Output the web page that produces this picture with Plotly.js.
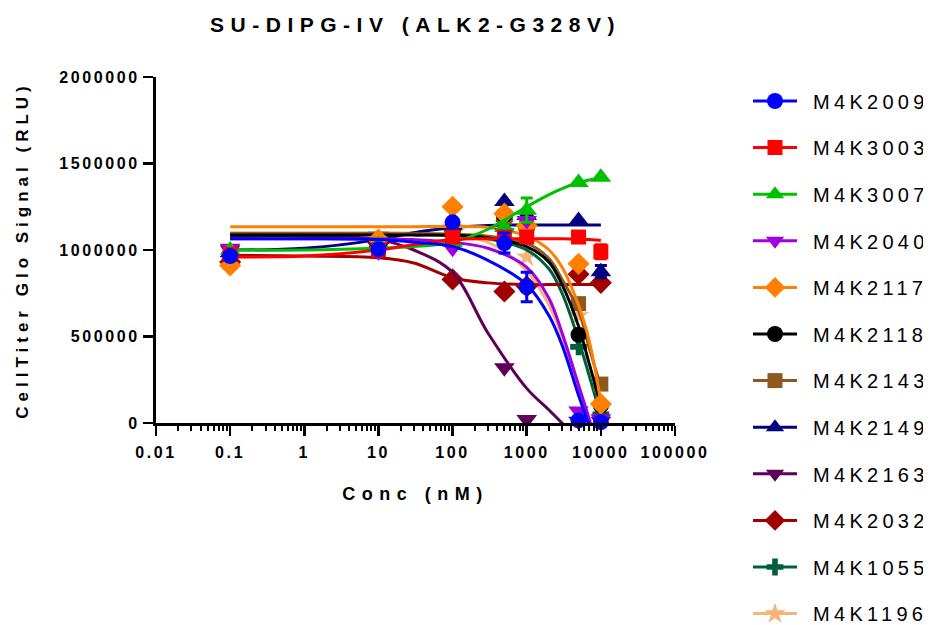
<!DOCTYPE html>
<html><head><meta charset="utf-8">
<script src="https://cdn.plot.ly/plotly-3.0.1.min.js"></script>
<style>
html,body{margin:0;padding:0;background:#fff;}
#chart{width:932px;height:625px;}
.gtitle{letter-spacing:6.5px;}
.xtitle{letter-spacing:6.5px;}
.ytitle{letter-spacing:5px;}
.xtick text,.ytick text{letter-spacing:2.6px;}
.legendtext{letter-spacing:4.3px;}
#chart .legendtext{transform:translate(11px,0);}
</style></head><body><div id="chart"></div>
<script>
// ---- data ----
const names = ["M4K2009","M4K3003","M4K3007","M4K2040","M4K2117","M4K2118","M4K2143","M4K2149","M4K2163","M4K2032","M4K1055","M4K1196"];
const concs = [0.1, 10, 100, 500, 1000, 5000, 10000];

const M4K2009 = [965000, 1005000, 1160000, 1040000, 786000, 15000, 5000];
const M4K3003 = [975000, 1000000, 1075000, 1075000, 1075000, 1075000, 990000];
const M4K3007 = [1000000, 1030000, 1045000, 1130000, 1230000, 1390000, 1420000];
const M4K2040 = [1010000, 990000, 1010000, 1100000, 1170000, 70000, 25000];
const M4K2117 = [910000, 1060000, 1250000, 1210000, 1140000, 920000, 110000];
const M4K2118 = [925000, 1020000, 1130000, 1200000, 1140000, 510000, 100000];
const M4K2143 = [930000, 1030000, 1120000, 1190000, 1140000, 690000, 225000];
const M4K2149 = [985000, 1040000, 1140000, 1280000, 1200000, 1170000, 875000];
const M4K2163 = [1000000, 1080000, 1120000, 320000, 20000, 10000, 10000];
const M4K2032 = [930000, 1040000, 830000, 760000, 790000, 860000, 810000];
const M4K1055 = [930000, 1020000, 1110000, 1180000, 1130000, 440000, 50000];
const M4K1196 = [940000, 1030000, 1110000, 1150000, 960000, 620000, 30000];

const err2009 = [0, 0, 0, 58000, 85000, 0, 0];
const err3003 = [0, 0, 0, 0, 0, 0, 40000];
const err3007 = [0, 0, 0, 0, 70000, 0, 0];
const err2149 = [0, 0, 0, 0, 0, 0, 35000];

// fitted curves at these concentrations
const curveX = [0.1, 1, 10, 30, 100, 300, 1000, 2000, 3000, 5000, 7000, 10000];
const fit2009 = [1065000,1065000,1060000,1045000,1020000,940000,800000,620000,450000,160000,-20000,-250000];
const fit3003 = [960000,965000,1000000,1030000,1060000,1065000,1065000,1065000,1065000,1062000,1060000,1055000];
const fit3007 = [1000000,1000000,1010000,1020000,1045000,1120000,1250000,1320000,1355000,1390000,1405000,1415000];
const fit2040 = [1065000,1065000,1064000,1060000,1045000,1010000,900000,720000,520000,220000,20000,-200000];
const fit2117 = [1135000,1135000,1135000,1135000,1135000,1130000,1080000,1000000,900000,680000,470000,120000];
const fit2118 = [1087000,1087000,1087000,1086000,1085000,1070000,1020000,930000,800000,560000,340000,100000];
const fit2143 = [1095000,1095000,1095000,1094000,1092000,1080000,1040000,950000,830000,650000,430000,210000];
const fit2149 = [1000000,1010000,1060000,1100000,1130000,1142000,1145000,1145000,1145000,1145000,1145000,1145000];
const fit2163 = [1080000,1080000,1060000,1000000,870000,520000,200000,75000,0,-80000,-120000,-150000];
const fit2032 = [970000,965000,955000,925000,840000,810000,800000,800000,800000,800000,800000,800000];
const fit1055 = [1090000,1090000,1090000,1089000,1085000,1065000,1000000,890000,750000,480000,270000,40000];
const fit1196 = [1100000,1100000,1100000,1098000,1085000,1045000,880000,680000,500000,200000,10000,-250000];

const xTickVals = [0.01, 0.1, 1, 10, 100, 1000, 10000, 100000];
const xTickText = ["0.01","0.1","1","10","100","1000","10000","100000"];
const yTickVals = [0, 500000, 1000000, 1500000, 2000000];
const yTickText = ["0","500000","1000000","1500000","2000000"];

// ---- styles ----
const series = [
  {y:M4K2009, fit:fit2009, err:err2009, color:"#0000FF", sym:"circle", size:16},
  {y:M4K3003, fit:fit3003, err:err3003, color:"#FF0000", sym:"square", size:15},
  {y:M4K3007, fit:fit3007, err:err3007, color:"#00C000", sym:"triangle-up", size:18},
  {y:M4K2040, fit:fit2040, err:null, color:"#A000E0", sym:"triangle-down", size:18},
  {y:M4K2117, fit:fit2117, err:null, color:"#FF8000", sym:"diamond", size:17},
  {y:M4K2118, fit:fit2118, err:null, color:"#000000", sym:"circle", size:16},
  {y:M4K2143, fit:fit2143, err:null, color:"#8C5A1E", sym:"square", size:15},
  {y:M4K2149, fit:fit2149, err:err2149, color:"#000080", sym:"triangle-up", size:18},
  {y:M4K2163, fit:fit2163, err:null, color:"#5E0058", sym:"triangle-down", size:18},
  {y:M4K2032, fit:fit2032, err:null, color:"#A00000", sym:"diamond", size:17},
  {y:M4K1055, fit:fit1055, err:null, color:"#00603C", sym:"cross", size:14},
  {y:M4K1196, fit:fit1196, err:null, color:"#F4B47A", sym:"star", size:16}
];

const traces = [];
for (let i = series.length - 1; i >= 0; i--) {
  const s = series[i];
  traces.push({x:curveX, y:s.fit, mode:"lines", line:{color:s.color, width:3, shape:"spline", smoothing:1}, showlegend:false, hoverinfo:"skip"});
  const mt = {x:concs, y:s.y, mode:"markers", marker:{symbol:s.sym, size:s.size, color:s.color, line:{width:0}}, showlegend:false, cliponaxis:false};
  if (s.err) mt.error_y = {type:"data", array:s.err, visible:true, color:s.color, thickness:3, width:6};
  traces.push(mt);
}
series.forEach((s, i) => {
  traces.push({x:[null], y:[null], mode:"lines+markers", name:names[i], legendgroup:"g"+i,
    line:{color:s.color, width:3}, marker:{symbol:s.sym, size:s.size, color:s.color, line:{width:0}}, showlegend:true});
});

const minorVals = [];
for (let d = -2; d < 5; d++) for (let k = 2; k <= 9; k++) minorVals.push(k * Math.pow(10, d));

const font = {family:"Liberation Sans, Arial, sans-serif", color:"#000"};
const layout = {
  width:932, height:625,
  margin:{l:156, r:257, t:77, b:202},
  paper_bgcolor:"#fff", plot_bgcolor:"#fff",
  title:{text:"SU-DIPG-IV (ALK2-G328V)", x:0.5, xref:"paper", y:0.961, yref:"container", yanchor:"middle",
    font:{...font, size:21, weight:"bold"}},
  xaxis:{type:"log", range:[-2, 5], showgrid:false, zeroline:false,
    showline:true, linecolor:"#000", linewidth:3,
    ticks:"outside", ticklen:10, tickwidth:2.5, tickcolor:"#000",
    tickmode:"array", tickvals:xTickVals, ticktext:xTickText, ticklabelstandoff:3,
    tickfont:{...font, size:16, weight:"bold"},
    minor:{ticks:"outside", ticklen:5, tickwidth:2, tickcolor:"#000", tickmode:"array", tickvals:minorVals, showgrid:false},
    title:{text:"Conc (nM)", standoff:28, font:{...font, size:18, weight:"bold"}}},
  yaxis:{range:[0, 2000000], showgrid:false, zeroline:false,
    showline:true, linecolor:"#000", linewidth:3,
    ticks:"outside", ticklen:10, tickwidth:2.5, tickcolor:"#000",
    tickmode:"array", tickvals:yTickVals, ticktext:yTickText,
    tickfont:{...font, size:16, weight:"bold"},
    title:{text:"CellTiter Glo Signal (RLU)", standoff:27, font:{...font, size:17, weight:"bold"}}},
  legend:{xref:"container", yref:"container", x:748/932, y:1-81.5/625, xanchor:"left", yanchor:"top",
    font:{...font, size:20}, tracegroupgap:17.6, itemwidth:44, maxheight:620, bgcolor:"rgba(0,0,0,0)"},
  showlegend:true
};
Plotly.newPlot("chart", traces, layout, {staticPlot:true});
</script></body></html>
